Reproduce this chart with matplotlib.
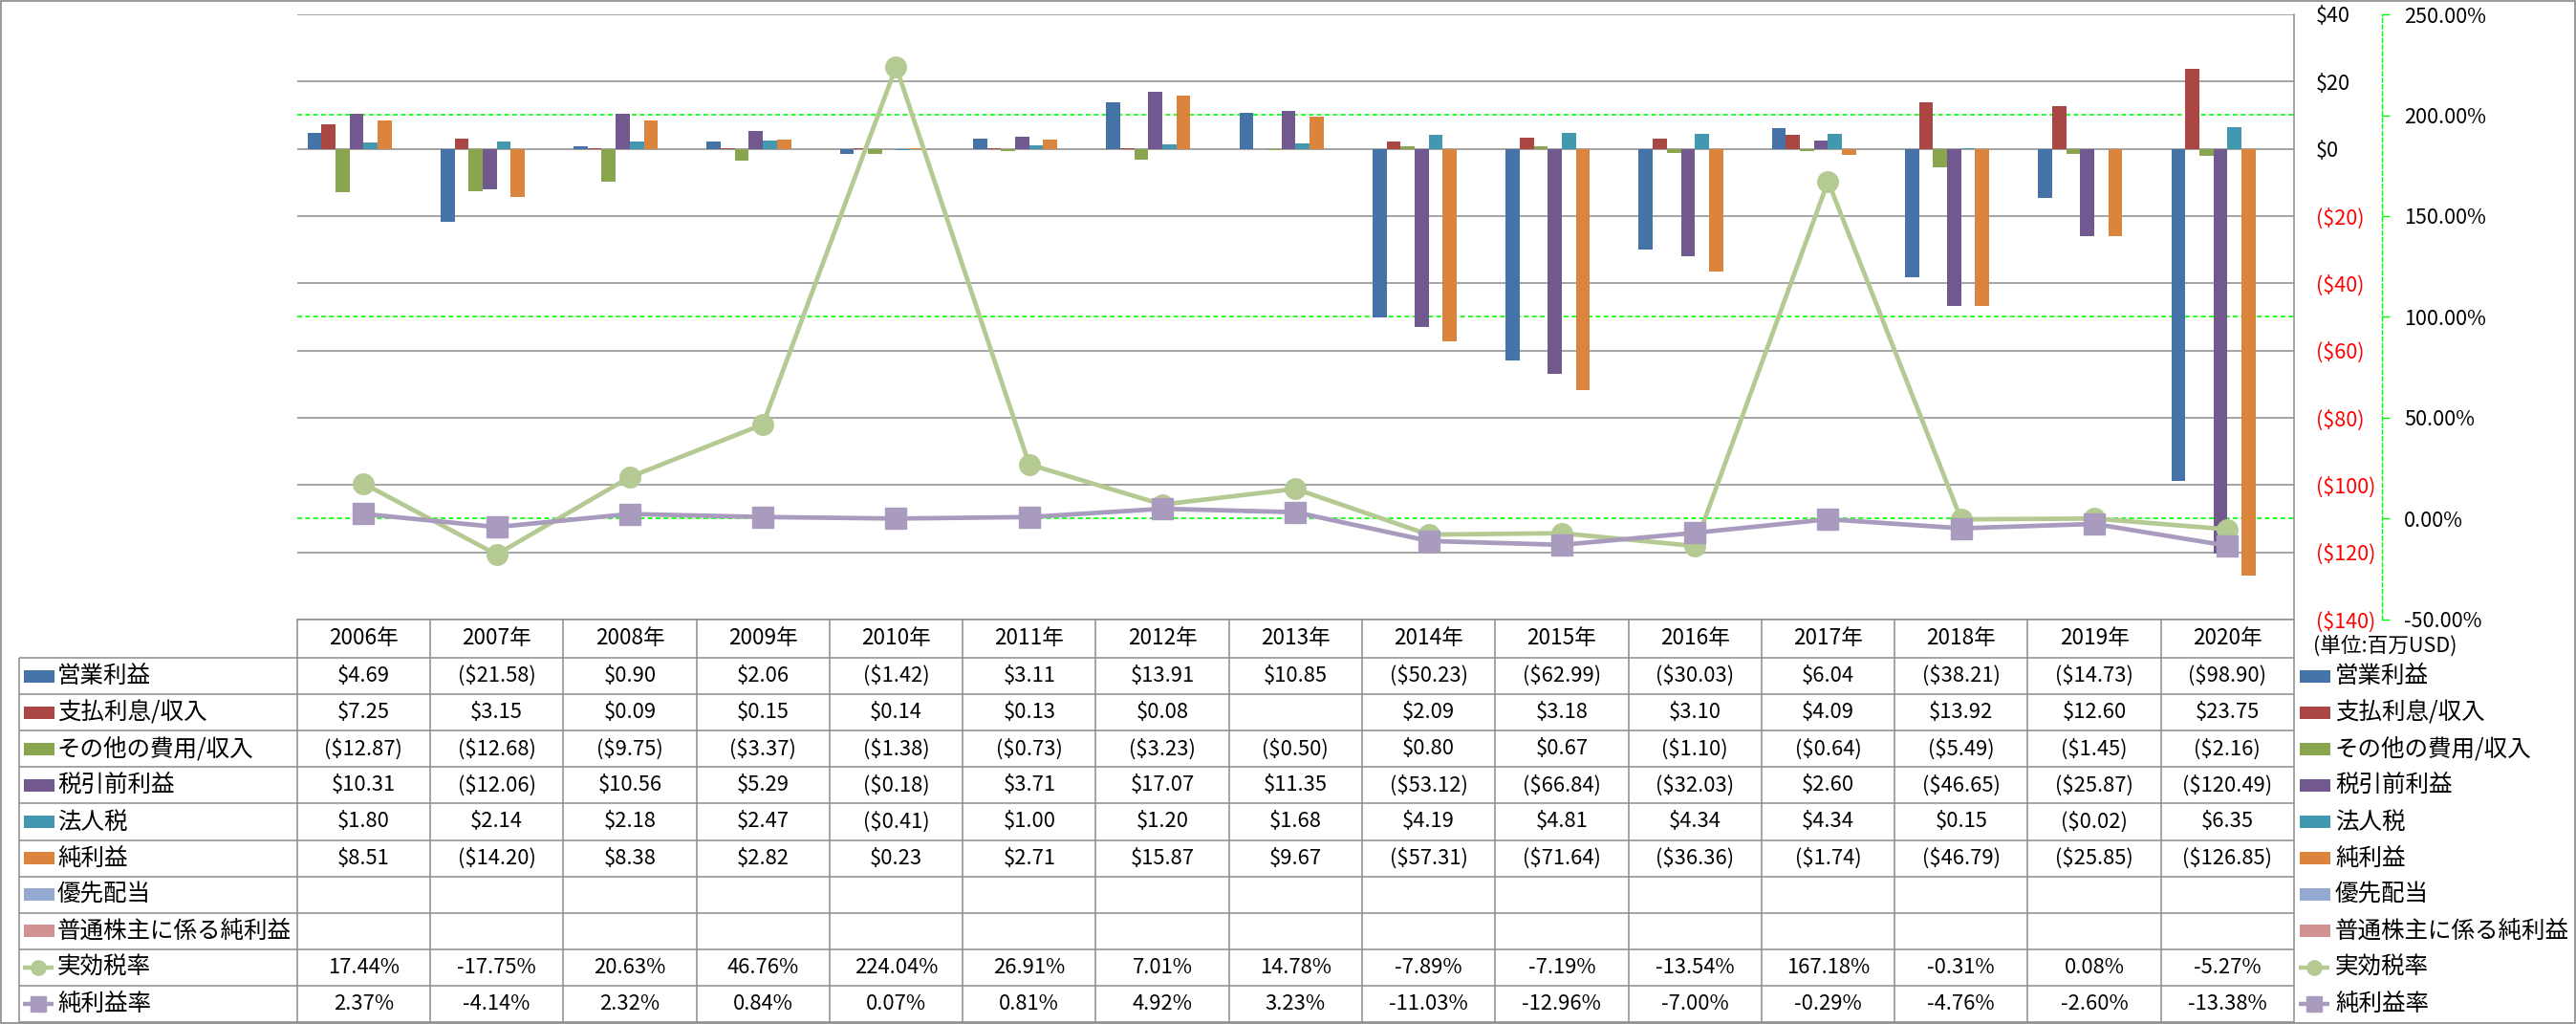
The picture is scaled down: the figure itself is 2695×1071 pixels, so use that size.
import numpy as np
import matplotlib
matplotlib.use("Agg")
import matplotlib.pyplot as plt
import matplotlib.transforms as mtransforms
from matplotlib.patches import Rectangle

plt.rcParams['font.family'] = ['Noto Sans CJK JP', 'DejaVu Sans']

# ---------------- data ----------------
years = ["2006年", "2007年", "2008年", "2009年", "2010年", "2011年", "2012年", "2013年",
         "2014年", "2015年", "2016年", "2017年", "2018年", "2019年", "2020年"]

op_income   = [4.69, -21.58, 0.90, 2.06, -1.42, 3.11, 13.91, 10.85, -50.23, -62.99, -30.03, 6.04, -38.21, -14.73, -98.90]
interest    = [7.25, 3.15, 0.09, 0.15, 0.14, 0.13, 0.08, np.nan, 2.09, 3.18, 3.10, 4.09, 13.92, 12.60, 23.75]
other_inc   = [-12.87, -12.68, -9.75, -3.37, -1.38, -0.73, -3.23, -0.50, 0.80, 0.67, -1.10, -0.64, -5.49, -1.45, -2.16]
pretax      = [10.31, -12.06, 10.56, 5.29, -0.18, 3.71, 17.07, 11.35, -53.12, -66.84, -32.03, 2.60, -46.65, -25.87, -120.49]
tax         = [1.80, 2.14, 2.18, 2.47, -0.41, 1.00, 1.20, 1.68, 4.19, 4.81, 4.34, 4.34, 0.15, -0.02, 6.35]
net_income  = [8.51, -14.20, 8.38, 2.82, 0.23, 2.71, 15.87, 9.67, -57.31, -71.64, -36.36, -1.74, -46.79, -25.85, -126.85]
pref_div    = [np.nan] * 15
common_ni   = [np.nan] * 15
tax_rate    = [17.44, -17.75, 20.63, 46.76, 224.04, 26.91, 7.01, 14.78, -7.89, -7.19, -13.54, 167.18, -0.31, 0.08, -5.27]
margin      = [2.37, -4.14, 2.32, 0.84, 0.07, 0.81, 4.92, 3.23, -11.03, -12.96, -7.00, -0.29, -4.76, -2.60, -13.38]

bar_names  = ["営業利益", "支払利息/収入", "その他の費用/収入", "税引前利益", "法人税", "純利益",
              "優先配当", "普通株主に係る純利益"]
bar_data   = [op_income, interest, other_inc, pretax, tax, net_income, pref_div, common_ni]
bar_colors = ["#4572A7", "#AA4643", "#89A54E", "#71588F", "#4198AF", "#DB843D", "#93A9CF", "#D19392"]

line_names  = ["実効税率", "純利益率"]
line_data   = [tax_rate, margin]
line_colors = ["#B5CA92", "#A99BBD"]
line_marks  = ["o", "s"]

# ---------------- layout (pixels) ----------------
W, H = 2695, 1071
PL, PR, PT, PB = 310.7, 2400, 15, 648
HB = 688             # header bottom
RH = 38.1            # table row height
TL = 20              # table left
GRAY = "#8C8C8C"
LIME = "#00FF00"

fig = plt.figure(figsize=(W / 100, H / 100), dpi=100)
fig.patch.set_facecolor("white")
renderer = fig.canvas.get_renderer()


def fit_size(text, target_px, base=10.0):
    # font size that makes `text` about target_px wide
    t = fig.text(0, 0, text, fontsize=base)
    w = t.get_window_extent(renderer=renderer).width
    t.remove()
    return base * target_px / w


FS_NUM = fit_size("($21.58)", 82)
FS_YEAR = fit_size("2006年", 73)
FS_JP = fit_size("普通株主に係る純利益", 245)
FS_AX = fit_size("250.00%", 86)
FS_UNIT = fit_size("(単位:百万USD)", 150)

ax = fig.add_axes([PL / W, 1 - PB / H, (PR - PL) / W, (PB - PT) / H])
ax2 = ax.twinx()

n = len(years)
x = np.arange(n)
bw = 0.1056
for i, (vals, col) in enumerate(zip(bar_data, bar_colors)):
    ax.bar(x + (i - 3.5) * bw, vals, width=bw, color=col, zorder=2, linewidth=0)

ax.set_xlim(-0.5, n - 0.5)
ax.set_ylim(-140, 40)
yt = np.arange(-140, 41, 20)
ax.set_yticks(yt)
ax.set_yticklabels([f"${v}" if v >= 0 else f"(${-v})" for v in yt])
ax.yaxis.tick_right()
ax.tick_params(axis="y", length=0, pad=16.5, labelsize=FS_AX)
for lab, v in zip(ax.get_yticklabels(), yt):
    lab.set_color("black" if v >= 0 else "red")
ax.set_xticks([])
ax.set_axisbelow(True)
ax.yaxis.grid(True, color=GRAY, linewidth=1.1)
for s in ["top", "left"]:
    ax.spines[s].set_visible(False)
for s in ["right", "bottom"]:
    ax.spines[s].set_color(GRAY)
    ax.spines[s].set_linewidth(1.1)

# secondary axis
ax2.set_ylim(-50, 250)
pt = np.arange(-50, 251, 50)
ax2.set_yticks(pt)
ax2.set_yticklabels([f"{v:.2f}%" for v in pt])
for lab, v in zip(ax2.get_yticklabels(), pt):
    lab.set_color("black" if v >= 0 else "red")
ax2.tick_params(axis="y", direction="out", length=5.8, width=1, color=LIME, pad=11, labelsize=FS_AX)
for s in ["top", "left", "bottom"]:
    ax2.spines[s].set_visible(False)
ax2.spines["right"].set_position(("axes", (2492 - PL) / (PR - PL)))
ax2.spines["right"].set_color(LIME)
ax2.spines["right"].set_linestyle((0, (3, 2)))
ax2.spines["right"].set_linewidth(1)

# secondary gridlines (behind bars)
blend = mtransforms.blended_transform_factory(ax.transAxes, ax2.transData)
for v in [0, 100, 200]:
    ax.plot([0, 1], [v, v], transform=blend, color=LIME, lw=1.2,
            linestyle=(0, (3, 2)), zorder=1.5)

for vals, col, mk in zip(line_data, line_colors, line_marks):
    ax2.plot(x, vals, color=col, lw=3.4, marker=mk, ms=15.5, mfc=col, mec=col, zorder=3)

# ---------------- data table ----------------
tab = fig.add_axes([0, 0, 1, 1])
tab.set_xlim(0, W)
tab.set_ylim(H, 0)
tab.axis("off")
tab.patch.set_visible(False)

colw = (PR - PL) / n
nrows = len(bar_names) + len(line_names)
ybot = HB + nrows * RH


def hline(x0, x1, y):
    tab.plot([x0, x1], [y, y], color=GRAY, lw=1.1, solid_capstyle="butt")


def vline(xx, y0, y1):
    tab.plot([xx, xx], [y0, y1], color=GRAY, lw=1.1, solid_capstyle="butt")


for r in range(nrows + 1):
    hline(TL, PR, HB + r * RH)
vline(TL, HB, ybot)
for c in range(n + 1):
    vline(PL + c * colw, PB, ybot)

for c, yr in enumerate(years):
    tab.text(PL + (c + 0.5) * colw, (PB + HB) / 2, yr, ha="center", va="center", fontsize=FS_YEAR)


def fmt_money(v):
    if np.isnan(v):
        return ""
    return f"${v:.2f}" if v >= 0 else f"(${-v:.2f})"


row_vals = [[fmt_money(v) for v in vals] for vals in bar_data] + \
           [[f"{v:.2f}%" for v in vals] for vals in line_data]
for r, vals in enumerate(row_vals):
    cy = HB + (r + 0.5) * RH
    for c, s in enumerate(vals):
        tab.text(PL + (c + 0.5) * colw, cy, s, ha="center", va="center", fontsize=FS_NUM)

# legend keys (left in table, right outside)
names = bar_names + line_names
for r, name in enumerate(names):
    cy = HB + (r + 0.5) * RH
    for kx, tx in [(25, 60), (2406, 2443)]:
        if r < len(bar_names):
            tab.add_patch(Rectangle((kx, cy - 6.5), 32, 13, color=bar_colors[r], lw=0))
        else:
            k = r - len(bar_names)
            tab.plot([kx - 1, kx + 31], [cy, cy], color=line_colors[k], lw=3.2,
                     solid_capstyle="butt")
            tab.plot([kx + 15], [cy], marker=line_marks[k], ms=11,
                     color=line_colors[k], mec=line_colors[k])
        tab.text(tx, cy, name, ha="left", va="center", fontsize=FS_JP)

tab.text(2420, 676, "(単位:百万USD)", ha="left", va="center", fontsize=FS_UNIT)

fig.add_artist(Rectangle((0.0004, 0.0008), 0.9992, 0.9984, transform=fig.transFigure,
                         fill=False, ec="#888888", lw=1.2))

fig.savefig("out.png", dpi=100)
